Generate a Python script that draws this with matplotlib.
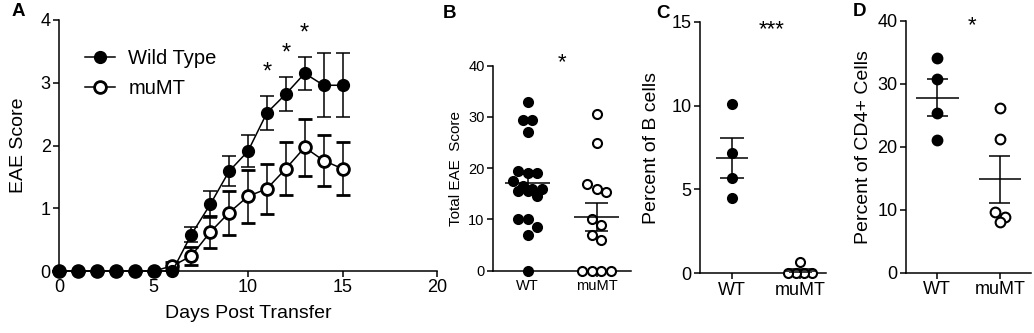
import numpy as np
import matplotlib
matplotlib.use("Agg")
import matplotlib.pyplot as plt
from matplotlib.lines import Line2D

plt.rcParams["font.family"] = ["Liberation Sans", "DejaVu Sans"]

# Panel A: EAE score time course (mean +/- SEM)
days = list(range(16))
wt_score = [0, 0, 0, 0, 0, 0, 0, 0.58, 1.06, 1.59, 1.91, 2.52, 2.82, 3.15, 2.96, 2.96]
wt_sem = [0, 0, 0, 0, 0, 0, 0, 0.12, 0.21, 0.24, 0.26, 0.27, 0.27, 0.26, 0.51, 0.51]
mu_score = [0, 0, 0, 0, 0, 0, 0.08, 0.24, 0.62, 0.93, 1.19, 1.31, 1.63, 1.97, 1.76, 1.63]
mu_sem = [0, 0, 0, 0, 0, 0, 0.06, 0.15, 0.26, 0.35, 0.42, 0.40, 0.42, 0.45, 0.41, 0.42]
star_days = [11, 12, 13]

groups = ["WT", "muMT"]

# Panel B: total EAE score
b_wt = [33, 29.5, 29.5, 27, 19.5, 19, 19, 17.5, 16.5, 16, 16, 15.5, 15.5, 14.5,
        10, 10, 8.5, 7, 0]
b_mu = [30.5, 25, 17, 15.9, 15.4, 10, 9, 7, 6, 0, 0, 0, 0]

# Panel C: percent of B cells
c_wt = [10.1, 7.2, 5.7, 4.5]
c_mu = [0.66, 0, 0, 0, 0]

# Panel D: percent of CD4+ cells
d_wt = [34.1, 30.7, 25.3, 21.1]
d_mu = [26.2, 21.3, 9.7, 8.9, 8.1]

W, H = 1034, 333
fig = plt.figure(figsize=(W / 100, H / 100), dpi=100)


def add_axes(left, top, right, bottom):
    return fig.add_axes([left / W, 1 - bottom / H, (right - left) / W, (bottom - top) / H])


def style(ax, tick_size):
    for s in ["top", "right"]:
        ax.spines[s].set_visible(False)
    for s in ["left", "bottom"]:
        ax.spines[s].set_linewidth(1.1)
    ax.tick_params(width=1.1, length=4, labelsize=tick_size, pad=2)


def swarm(ax, xc, values, diam_px):
    # simple row-based dot layout, like a prism scatter plot
    order = np.argsort(values)[::-1]
    to_px = ax.transData.transform
    xscale = to_px((1, 0))[0] - to_px((0, 0))[0]
    rows = []
    for i in order:
        y = to_px((0, values[i]))[1]
        if rows and rows[-1][0] - y < 0.9 * diam_px:
            rows[-1][1].append(i)
        else:
            rows.append([y, [i]])
    xs = np.zeros(len(values))
    for _, idx in rows:
        n = len(idx)
        for k, i in enumerate(idx):
            xs[i] = xc + (k - (n - 1) / 2) * diam_px / xscale
    return xs


def dot_panel(ax, wt, mu, ms, diam_px, mean_hw, cap_hw):
    for xc, vals, face in [(0, wt, "black"), (1, mu, "white")]:
        vals = np.array(vals, dtype=float)
        xs = swarm(ax, xc, vals, diam_px)
        ax.plot(xs, vals, "o", ms=ms, mfc=face, mec="black", mew=1.5,
                ls="none", clip_on=False, zorder=3)
        m = vals.mean()
        se = vals.std(ddof=1) / np.sqrt(len(vals))
        ax.hlines(m, xc - mean_hw, xc + mean_hw, color="black", lw=1.1, zorder=4)
        ax.hlines([m - se, m + se], xc - cap_hw, xc + cap_hw, color="black", lw=1.1, zorder=4)
        ax.vlines(xc, m - se, m + se, color="black", lw=1.1, zorder=4)


# ---- Panel A ----
axA = add_axes(59, 20, 437, 271)
axA.set_xlim(0, 20)
axA.set_ylim(0, 4)
style(axA, 13)
axA.set_xticks([0, 5, 10, 15, 20])
axA.set_yticks([0, 1, 2, 3, 4])
axA.errorbar(days, mu_score, yerr=mu_sem, fmt="-o", color="black", mfc="white",
             mec="black", mew=2, ms=8.5, lw=1.1, elinewidth=1.1, capsize=5,
             capthick=1.1, clip_on=False, zorder=3)
axA.errorbar(days, wt_score, yerr=wt_sem, fmt="-o", color="black", mfc="black",
             ms=8.5, lw=1.1, elinewidth=1.1, capsize=5, capthick=1.1,
             clip_on=False, zorder=4)
for d in star_days:
    axA.text(d, wt_score[d] + wt_sem[d] + 0.38, "*", ha="center", va="center",
             fontsize=17)
handles = [
    Line2D([], [], color="black", lw=1.1, marker="o", ms=8.5, mfc="black", mec="black"),
    Line2D([], [], color="black", lw=1.1, marker="o", ms=8.5, mfc="white", mec="black", mew=2),
]
axA.legend(handles, ["Wild Type", "muMT"], loc="upper left",
           bbox_to_anchor=(0.069, 0.885), borderpad=0, borderaxespad=0,
           frameon=False, fontsize=14.5, handlelength=1.5, handletextpad=0.65,
           labelspacing=0.55)
axA.set_xlabel("Days Post Transfer", fontsize=14, labelpad=6)
axA.set_ylabel("EAE Score", fontsize=14, labelpad=10)

# ---- Panel B ----
axB = add_axes(493, 65.7, 631, 270.7)
axB.set_xlim(-0.5, 1.5)
axB.set_ylim(0, 40)
style(axB, 10.5)
axB.set_yticks([0, 10, 20, 30, 40])
axB.set_xticks([0, 1])
axB.set_xticklabels(groups)
dot_panel(axB, b_wt, b_mu, 6.5, 9.5, 0.33, 0.16)
axB.text(0.5, 40.5, "*", ha="center", va="center", fontsize=16)
axB.set_ylabel("Total EAE  Score", fontsize=11, labelpad=4)

# ---- Panel C ----
axC = add_axes(700, 21.7, 826, 273.3)
axC.set_xlim(-0.47, 1.38)
axC.set_ylim(0, 15)
style(axC, 13)
axC.set_yticks([0, 5, 10, 15])
axC.set_xticks([0, 1])
axC.set_xticklabels(groups)
dot_panel(axC, c_wt, c_mu, 6.5, 8, 0.24, 0.17)
axC.text(0.58, 14.5, "***", ha="center", va="center", fontsize=16)
axC.set_ylabel("Percent of B cells", fontsize=14, labelpad=8)

# ---- Panel D ----
axD = add_axes(906, 20.7, 1031, 272.7)
axD.set_xlim(-0.5, 1.5)
axD.set_ylim(0, 40)
style(axD, 13)
axD.set_yticks([0, 10, 20, 30, 40])
axD.set_xticks([0, 1])
axD.set_xticklabels(groups)
dot_panel(axD, d_wt, d_mu, 7, 10, 0.34, 0.17)
axD.text(0.55, 39.2, "*", ha="center", va="center", fontsize=16)
axD.set_ylabel("Percent of CD4+ Cells", fontsize=14, labelpad=4)

# panel letters
for x, y, s in [(18, 12, "A"), (450, 13, "B"), (663, 13, "C"), (860, 11, "D")]:
    fig.text(x / W, 1 - y / H, s, fontsize=13.5, fontweight="bold", ha="center", va="center")

fig.savefig("out.png", dpi=100)
